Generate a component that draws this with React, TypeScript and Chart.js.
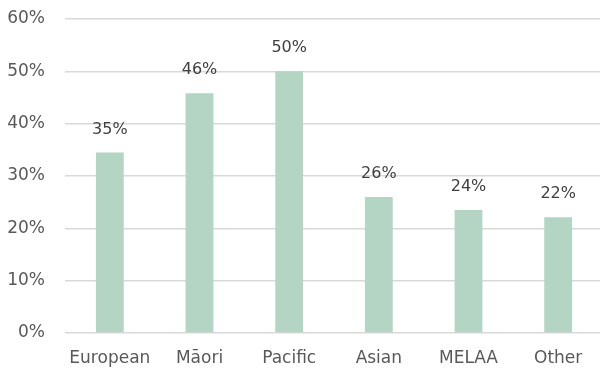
import React, { useEffect, useRef } from "react";
import { Chart, registerables } from "chart.js";

Chart.register(...registerables);

const categories = ["European", "Māori", "Pacific", "Asian", "MELAA", "Other"];
const shares = [34.5, 45.8, 50.0, 26.0, 23.5, 22.1];
const yTicks = [0, 10, 20, 30, 40, 50, 60];

const FONT = "'DejaVu Sans', sans-serif";

const valueLabels = {
  id: "valueLabels",
  afterDatasetsDraw(chart: any) {
    const { ctx } = chart;
    const meta = chart.getDatasetMeta(0);
    ctx.save();
    ctx.font = `16px ${FONT}`;
    ctx.fillStyle = "#404040";
    ctx.textAlign = "center";
    ctx.textBaseline = "middle";
    meta.data.forEach((bar: any, i: number) => {
      ctx.fillText(`${Math.round(shares[i])}%`, bar.x, bar.y - 23);
    });
    ctx.restore();
  },
};

export default function App() {
  const canvasRef = useRef<HTMLCanvasElement | null>(null);

  useEffect(() => {
    document.body.style.margin = "0";
    const canvas = canvasRef.current;
    if (!canvas) return;
    const chart = new Chart(canvas, {
      type: "bar",
      data: {
        labels: categories,
        datasets: [
          {
            data: shares,
            backgroundColor: "#b4d4c4",
            barPercentage: 0.62,
            categoryPercentage: 0.5,
          },
        ],
      },
      options: {
        animation: false,
        responsive: false,
        layout: { padding: { top: 19, left: 0, right: 0, bottom: 0 } },
        plugins: {
          legend: { display: false },
          tooltip: { enabled: false },
        },
        scales: {
          x: {
            grid: { display: false, drawTicks: false },
            border: { display: false },
            ticks: {
              color: "#595959",
              font: { family: FONT, size: 17 },
              padding: 15,
              maxRotation: 0,
            },
            afterFit(scale: any) {
              scale.height = 35;
            },
          },
          y: {
            min: 0,
            max: 60,
            afterBuildTicks(scale: any) {
              scale.ticks = yTicks.map((v) => ({ value: v }));
            },
            grid: { color: "#d9d9d9", lineWidth: 1.5, drawTicks: false },
            border: { display: false },
            ticks: {
              color: "#595959",
              font: { family: FONT, size: 17 },
              padding: 20,
              callback: (v: any) => `${v}%`,
            },
            afterFit(scale: any) {
              scale.width = 65;
              scale.paddingTop = 0;
              scale.paddingBottom = 0;
            },
          },
        },
      },
      plugins: [valueLabels],
    });
    return () => chart.destroy();
  }, []);

  return (
    <div style={{ width: 600, height: 368, overflow: "hidden", position: "relative" }}>
      <canvas ref={canvasRef} width={603} height={368} style={{ display: "block" }} />
    </div>
  );
}
